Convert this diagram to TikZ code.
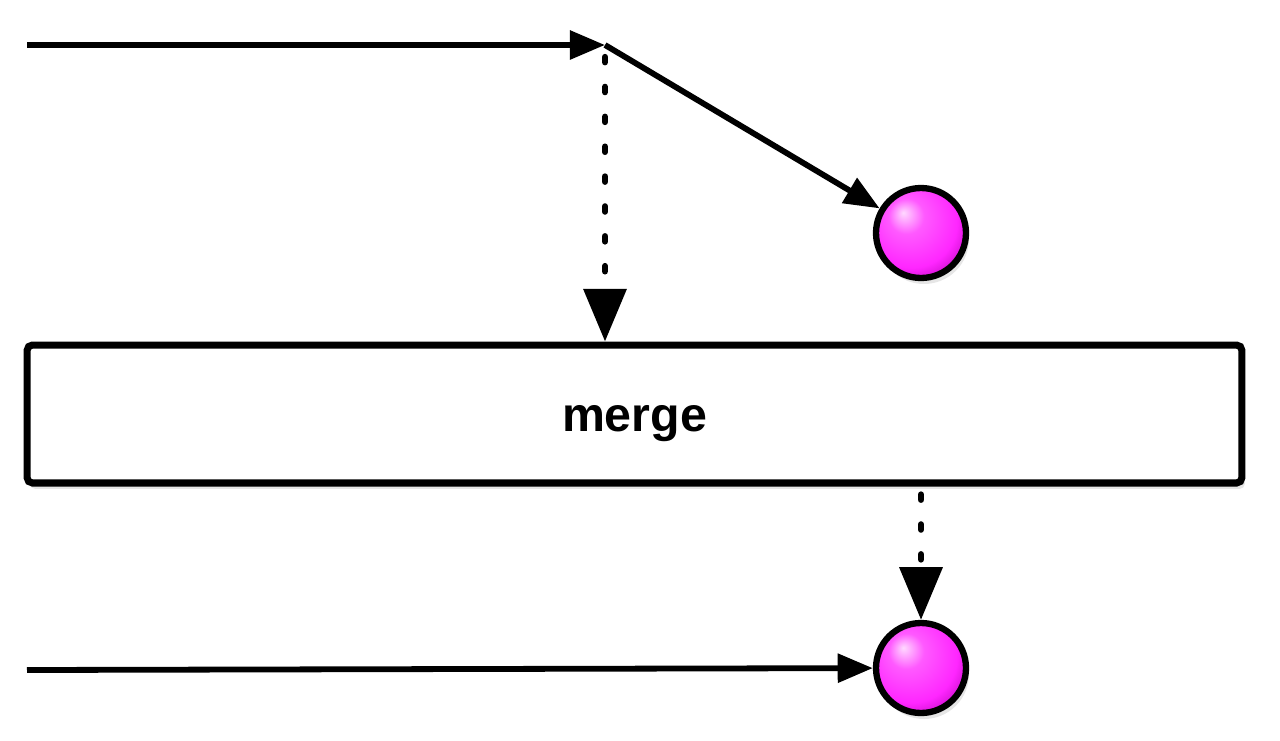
\documentclass[tikz,border=0pt]{standalone}
\usepackage{fontspec}
\setsansfont{Liberation Sans}
\usepackage{tikz}
\usetikzlibrary{arrows.meta, positioning, calc, shadows}
\pgfdeclareradialshading{pinkball}{\pgfpoint{-0.35cm}{0.4cm}}{%
  color(0cm)=(white!85!magenta); color(0.35cm)=(magenta!65!white);
  color(0.9cm)=(magenta!85!white); color(1.3cm)=(magenta!70!black);
  color(2cm)=(magenta!50!black)}

\begin{document}
\begin{tikzpicture}[x=0.02cm, y=-0.02cm,
  flow/.style={line width=3.3pt, -{Triangle[length=20pt, width=16pt]}},
  dots/.style={line width=3.6pt, line cap=round, dash pattern=on 3pt off 14pt,
    -{Triangle[length=30pt, width=24pt]}},
  item/.style={circle, draw, line width=3.6pt, minimum size=1.8cm, inner sep=0pt,
    shading=pinkball,
    drop shadow={opacity=0.2, shadow xshift=0.6mm, shadow yshift=-1.2mm}},
  op/.style={draw, line width=4pt, rounded corners=3pt, fill=white,
    minimum width=24.3cm, minimum height=2.76cm, inner sep=0pt,
    text height=25pt, text depth=5.5pt,
    font=\sffamily\bfseries\fontsize{27.5}{30}\selectfont,
    drop shadow={opacity=0.2, shadow xshift=0.6mm, shadow yshift=-1.2mm}}]
  \useasboundingbox (0,0) rectangle (1280,740);
  % operator box
  \node[op] (merge) at (634.5,414) {merge};
  % emitted items
  \node[item] (top) at (921,233) {};
  \node[item] (out) at (921,668) {};
  % source streams
  \coordinate (srcA) at (27,45);
  \coordinate (split) at (605,45);
  \coordinate (srcB) at (27,670);
  \draw[flow] (srcA) -- (split);
  \draw[flow] (split) -- (top);
  \draw[dots] ($(split)+(0,12)$) -- (merge.north -| split);
  \draw[dots] ($(merge.south -| out)+(0,8)$) -- (out);
  \draw[flow] (srcB) -- (out);
\end{tikzpicture}
\end{document}
